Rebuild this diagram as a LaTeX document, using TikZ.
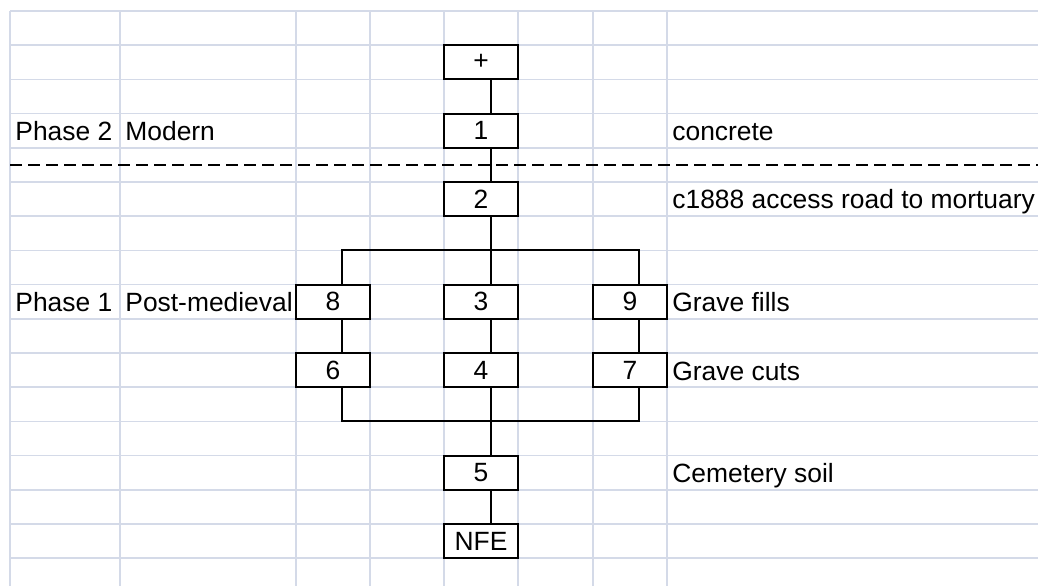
\documentclass[tikz,border=0pt]{standalone}
\usepackage{fontspec}
\setmainfont{Liberation Sans}
\definecolor{gridgrey}{RGB}{212,218,232}

\begin{document}
\begin{tikzpicture}[x=0.5pt,y=-0.5pt,
	font=\fontsize{13.2}{15}\selectfont,
	cell/.style={draw,line width=1pt,fill=white,minimum width=37pt,minimum height=17.1pt,inner sep=0pt},
	label/.style={anchor=base west,inner sep=0pt},
	link/.style={line width=1pt},
	grid/.style={gridgrey,line width=0.8pt}]
	\useasboundingbox (0, 0) rectangle (1038, 586);
	%Sheet grid
		\foreach \r in {0,...,16}
			\draw [grid] (10, 11+34.2*\r) -- (1038, 11+34.2*\r);
		\foreach \c in {10,120,296,370,444,518,593,667}
			\draw [grid] (\c, 11) -- (\c, 586);
	%Phase divide
		\draw [line width=1pt,dash pattern=on 6pt off 3pt] (10, 165) -- (1038, 165);
	%Split and merge points
		\coordinate (split) at (490.5, 250.4);
		\coordinate (merge) at (490.5, 421.4);
	%Contexts
		\node [cell] (top) at (481, 62.3) {+};
		\node [cell] (c1) at (481, 130.7) {1};
		\node [cell] (c2) at (481, 199.1) {2};
		\node [cell] (c3) at (481, 301.7) {3};
		\node [cell] (c4) at (481, 370.1) {4};
		\node [cell] (c5) at (481, 472.7) {5};
		\node [cell] (nfe) at (481, 541.1) {NFE};
		\node [cell] (c8) at (333, 301.7) {8};
		\node [cell] (c6) at (333, 370.1) {6};
		\node [cell] (c9) at (630, 301.7) {9};
		\node [cell] (c7) at (630, 370.1) {7};
	%Links down the middle
		\draw [link] ([xshift=4.75pt]top.south) -- ([xshift=4.75pt]c1.north);
		\draw [link] ([xshift=4.75pt]c1.south) -- ([xshift=4.75pt]c2.north);
		\draw [link] ([xshift=4.75pt]c2.south) -- ([xshift=4.75pt]c3.north);
		\draw [link] ([xshift=4.75pt]c3.south) -- ([xshift=4.75pt]c4.north);
		\draw [link] ([xshift=4.75pt]c4.south) -- ([xshift=4.75pt]c5.north);
		\draw [link] ([xshift=4.75pt]c5.south) -- ([xshift=4.75pt]nfe.north);
	%Graves either side
		\draw [link] ([xshift=4.5pt]c8.north) |- (split) -| ([xshift=4.5pt]c9.north);
		\draw [link] ([xshift=4.5pt]c8.south) -- ([xshift=4.5pt]c6.north);
		\draw [link] ([xshift=4.5pt]c9.south) -- ([xshift=4.5pt]c7.north);
		\draw [link] ([xshift=4.5pt]c6.south) |- (merge) -| ([xshift=4.5pt]c7.south);
	%Phase labels
		\node [label] (p2) at (15, 140) {Phase 2};
		\node [label] (p2name) at (125, 140) {Modern};
		\node [label] (p1) at (15, 311.5) {Phase 1};
		\node [label] (p1name) at (125, 311.5) {Post-medieval};
	%Descriptions
		\node [label] (d1) at (672, 140) {concrete};
		\node [label] (d2) at (672, 208.5) {c1888 access road to mortuary};
		\node [label] (d9) at (672, 311.5) {Grave fills};
		\node [label] (d7) at (672, 380) {Grave cuts};
		\node [label] (d5) at (672, 482.5) {Cemetery soil};
\end{tikzpicture}
\end{document}
